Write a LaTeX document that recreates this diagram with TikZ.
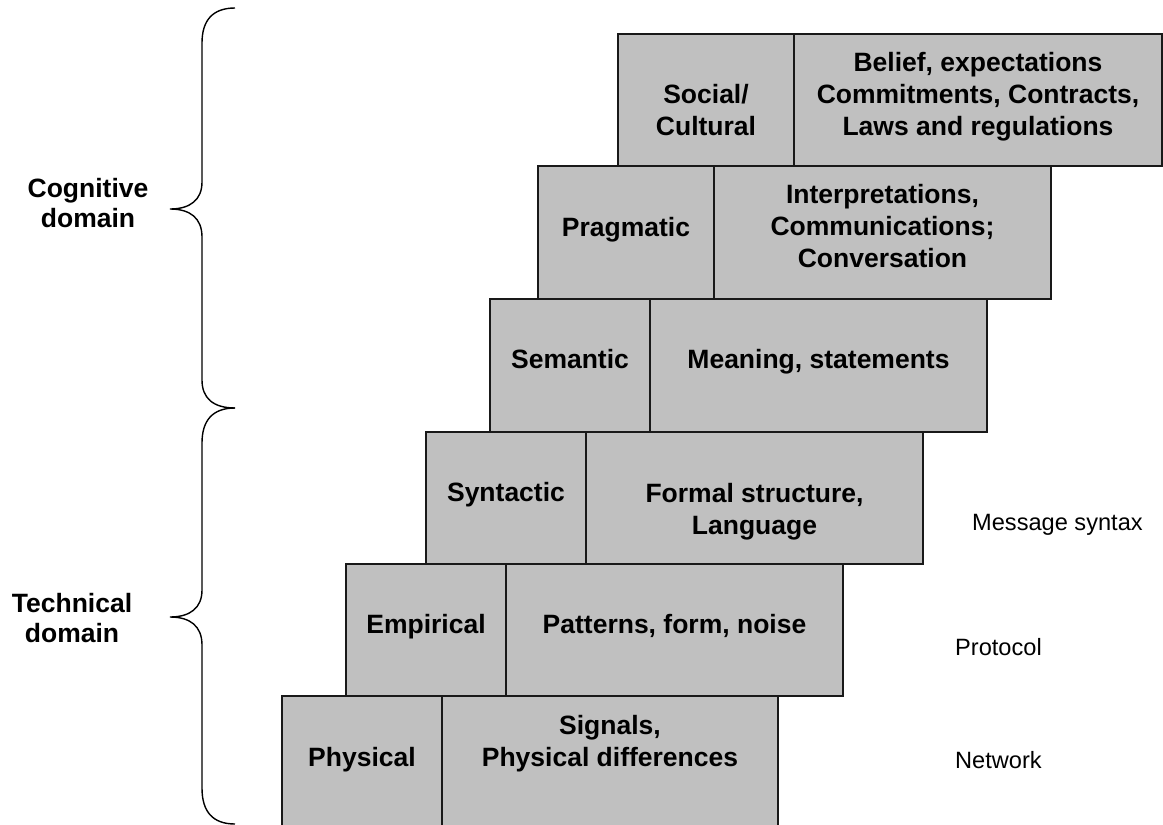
\documentclass[tikz,border=0pt]{standalone}
\usepackage{fontspec}
\setmainfont{Liberation Sans}
\newcommand{\mylines}[1]{\begin{tabular}[t]{@{}c@{}}#1\end{tabular}}
\begin{document}
\begin{tikzpicture}[x=1pt,y=-1pt,
  cellbox/.style={fill={rgb,255:red,192;green,192;blue,192},draw=black!90,line width=1.5pt},
  boldtxt/.style={inner sep=0pt,anchor=base,font=\fontsize{26.5}{32}\selectfont\bfseries},
  plaintxt/.style={inner sep=0pt,anchor=base west,font=\fontsize{23.6}{28}\selectfont},
  bracestyle/.style={draw=black,line width=1.4pt}]
\useasboundingbox (0,0) rectangle (1163,825);
\clip (0,0) rectangle (1163,825);
% boxes
\draw[cellbox] (618,34) rectangle (794,166);
\draw[cellbox] (794,34) rectangle (1162,166);
\draw[cellbox] (538,166) rectangle (714,299);
\draw[cellbox] (714,166) rectangle (1051,299);
\draw[cellbox] (490,299) rectangle (650,432);
\draw[cellbox] (650,299) rectangle (987,432);
\draw[cellbox] (426,432) rectangle (586,564);
\draw[cellbox] (586,432) rectangle (923,564);
\draw[cellbox] (346,564) rectangle (506,696);
\draw[cellbox] (506,564) rectangle (843,696);
\draw[cellbox] (282,696) rectangle (442,860);
\draw[cellbox] (442,696) rectangle (778,860);
% texts
\node[boldtxt] (social) at (706,103.5) {\mylines{Social/\\Cultural}};
\node[boldtxt] (belief) at (978,71.5) {\mylines{Belief, expectations\\Commitments, Contracts,\\Laws and regulations}};
\node[boldtxt] (pragmatic) at (626,236.5) {Pragmatic};
\node[boldtxt] (interp) at (882.5,203.5) {\mylines{Interpretations,\\Communications;\\Conversation}};
\node[boldtxt] (semantic) at (570,368.5) {Semantic};
\node[boldtxt] (meaning) at (818.5,368.5) {Meaning, statements};
\node[boldtxt] (syntactic) at (506,501.5) {Syntactic};
\node[boldtxt] (formal) at (754.5,502) {\mylines{Formal structure,\\Language}};
\node[boldtxt] (empirical) at (426,633.5) {Empirical};
\node[boldtxt] (patterns) at (674.5,633.5) {Patterns, form, noise};
\node[boldtxt] (physical) at (362,766.5) {Physical};
\node[boldtxt] (signals) at (610,734.5) {\mylines{Signals,\\Physical differences}};
\node[plaintxt] (msg) at (972,530) {Message syntax};
\node[plaintxt] (protocol) at (955,655.5) {Protocol};
\node[plaintxt] (network) at (955,768.5) {Network};
\node[boldtxt,font=\fontsize{26.5}{30.5}\selectfont\bfseries] (cog) at (88,197) {\mylines{Cognitive\\domain}};
\node[boldtxt,font=\fontsize{26.5}{30.5}\selectfont\bfseries] (tech) at (72,612) {\mylines{Technical\\domain}};
% braces
\draw[bracestyle] (235,8) .. controls (213,8) and (202,20) .. (202,43) -- (202,182)
  .. controls (202,200) and (190,209) .. (170,209)
  .. controls (190,209) and (202,218) .. (202,237) -- (202,380)
  .. controls (202,398) and (213,408) .. (235,408);
\draw[bracestyle] (235,408) .. controls (213,408) and (202,420) .. (202,443) -- (202,590)
  .. controls (202,608) and (190,617) .. (170,617)
  .. controls (190,617) and (202,626) .. (202,645) -- (202,788)
  .. controls (202,812) and (213,824) .. (235,824);
\end{tikzpicture}
\end{document}
